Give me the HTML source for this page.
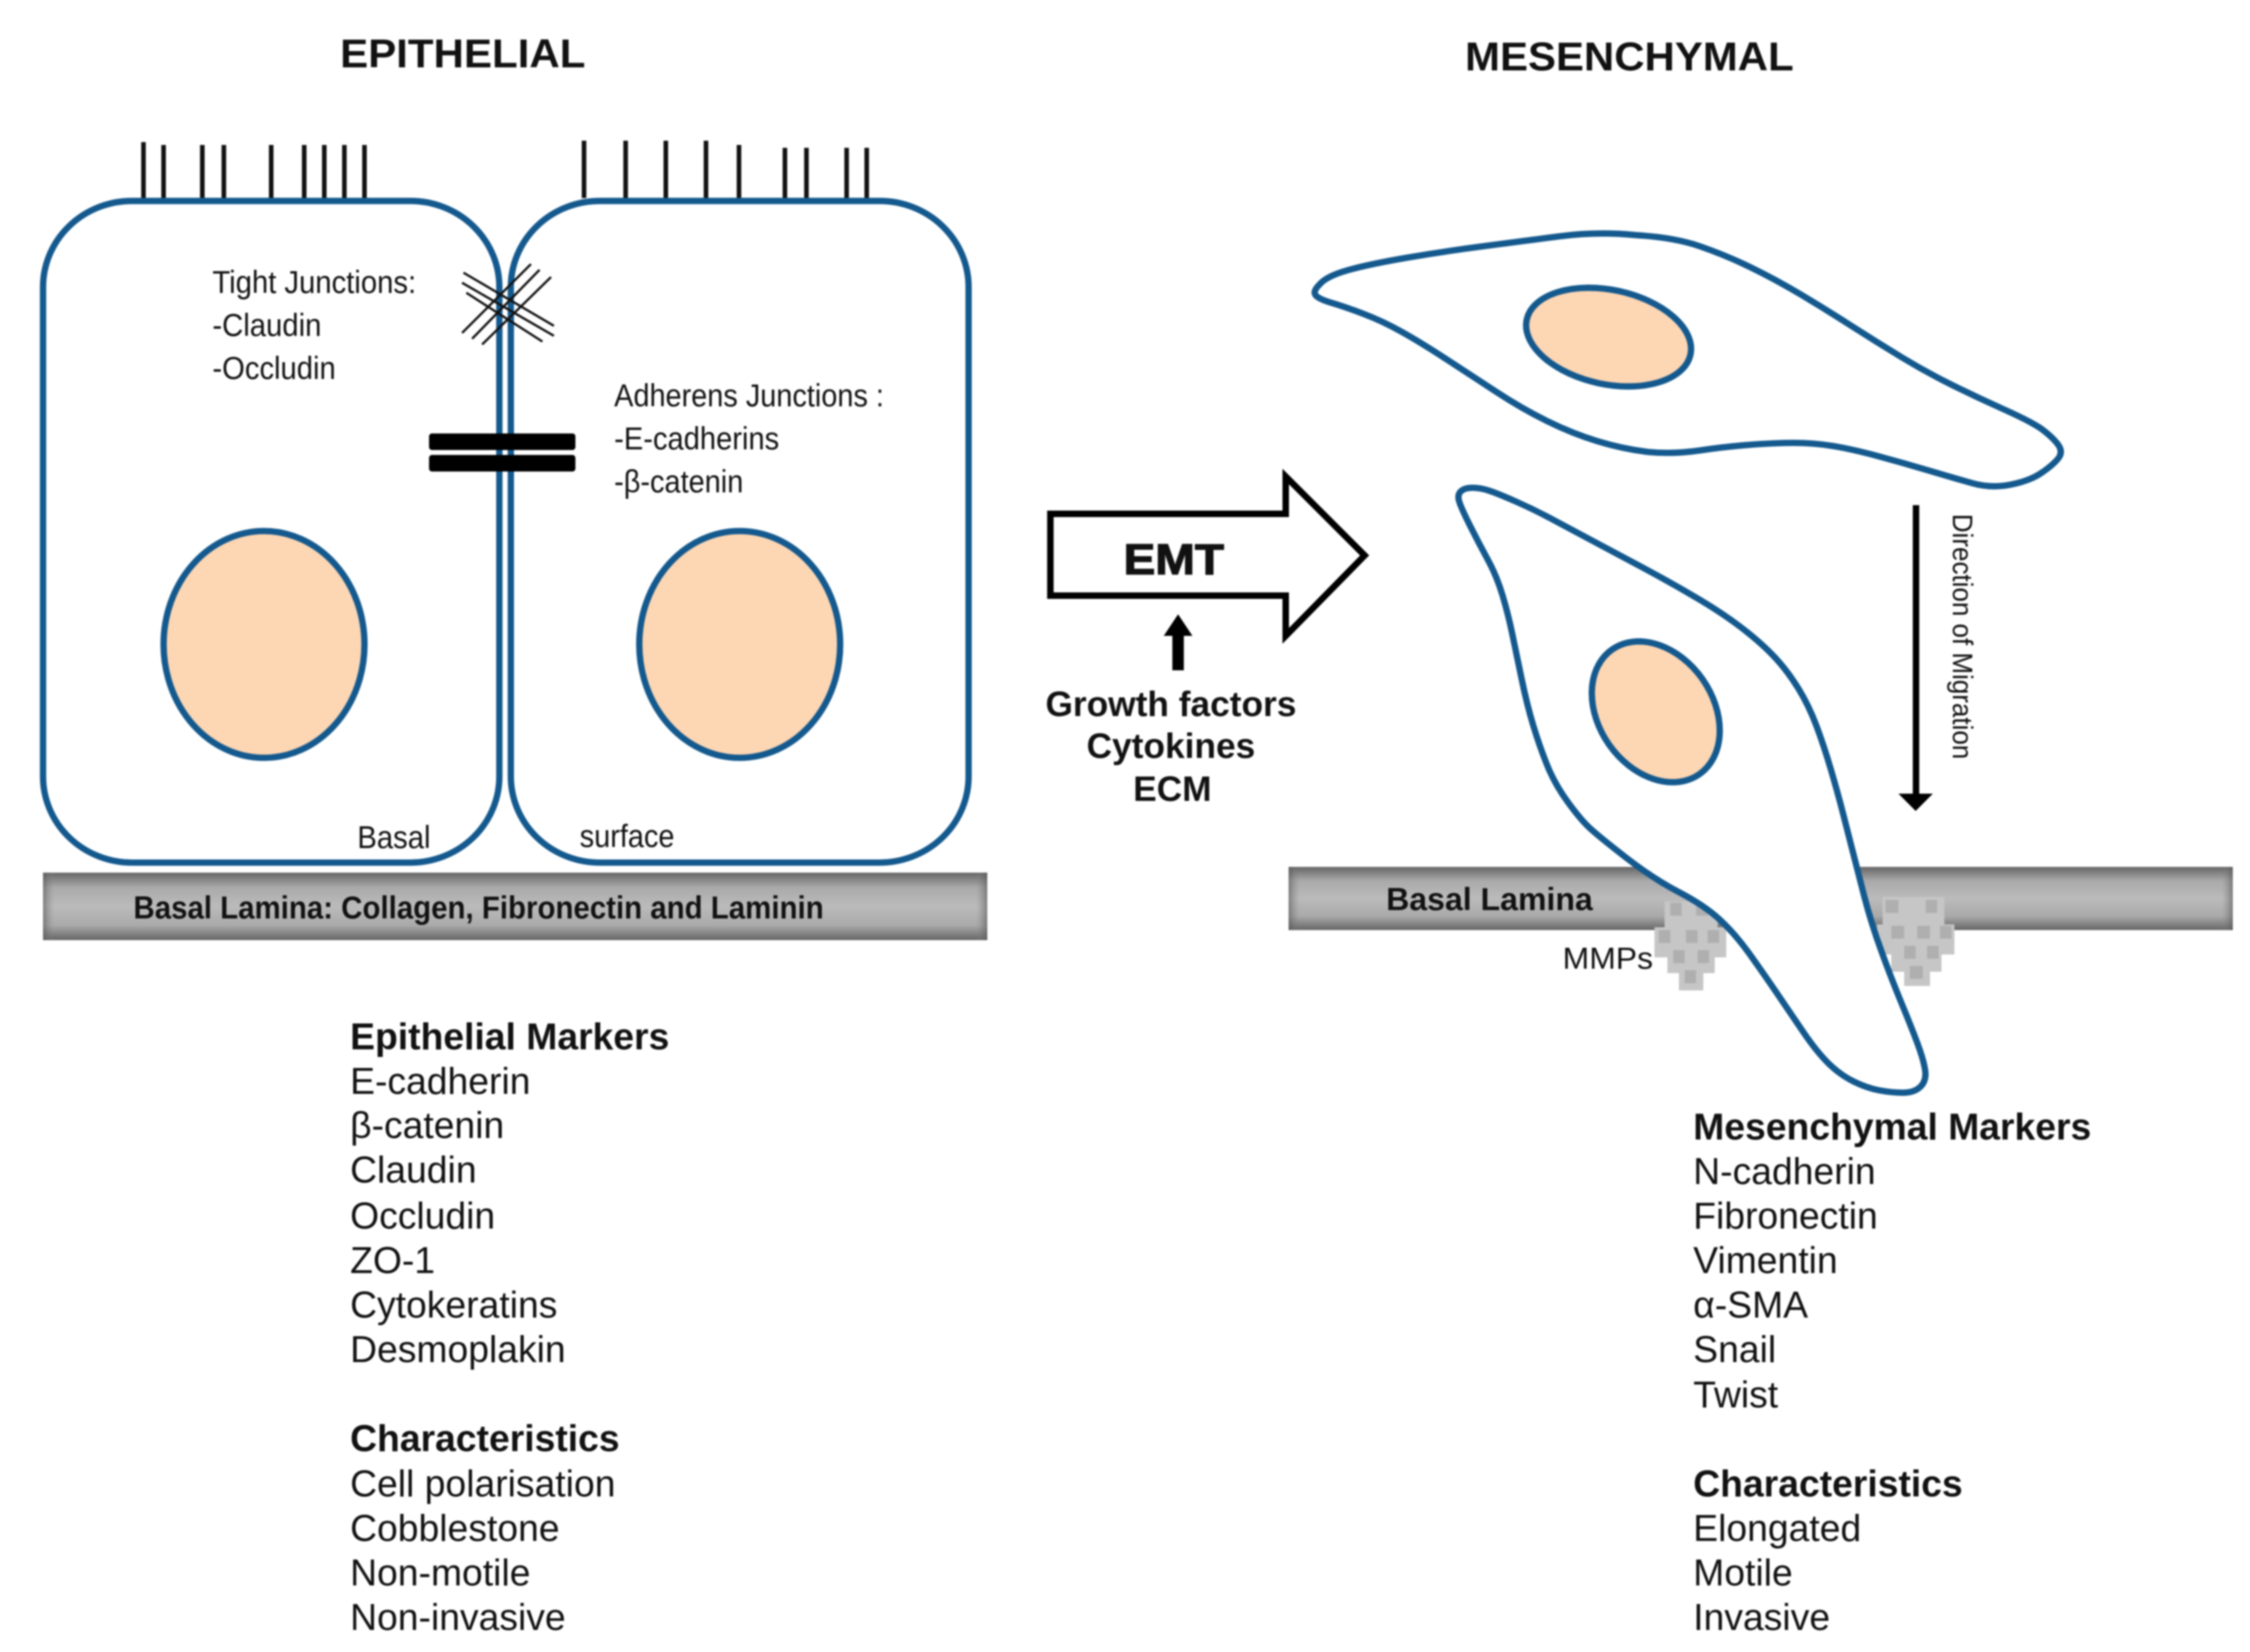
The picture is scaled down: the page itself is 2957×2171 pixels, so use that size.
<!DOCTYPE html>
<html><head><meta charset="utf-8"><style>
html,body{margin:0;padding:0;background:#fff}
svg{display:block;width:2957px;height:2171px;filter:blur(1px)}
text{font-family:"Liberation Sans",sans-serif;fill:#111}
.b{font-weight:bold}
.m{font-size:26px}
.n{font-size:22px}
</style></head><body>
<svg xmlns="http://www.w3.org/2000/svg" viewBox="0 0 1568 1151" preserveAspectRatio="none">
<defs>
<linearGradient id="v" x1="0" y1="0" x2="0" y2="1"><stop offset="0" stop-color="#666"/><stop offset=".22" stop-color="#aaa"/><stop offset=".5" stop-color="#bbb"/><stop offset=".78" stop-color="#aaa"/><stop offset="1" stop-color="#666"/></linearGradient>
<linearGradient id="h" x1="0" y1="0" x2="1" y2="0"><stop offset="0" stop-color="#555" stop-opacity=".6"/><stop offset=".012" stop-color="#888" stop-opacity="0"/><stop offset=".988" stop-color="#888" stop-opacity="0"/><stop offset="1" stop-color="#555" stop-opacity=".6"/></linearGradient>
</defs>
<rect width="1568" height="1151" fill="#fff"/>

<text class="b" x="237" y="47" font-size="28" textLength="171" lengthAdjust="spacingAndGlyphs">EPITHELIAL</text>
<text class="b" x="1021" y="49" font-size="28" textLength="229" lengthAdjust="spacingAndGlyphs">MESENCHYMAL</text>

<g stroke="#111" stroke-width="3.2">
<path d="M100 99V139M114 101V139M141 101V139M156 101V139M189 101V139M212 101V139M226 101V139M240 101V139M254 101V139"/>
<path d="M407 98V138M436 98V138M464 98V138M492 98V138M515 101V138M547 103V139M562 103V139M590 103V139M604 103V139"/>
</g>

<g fill="none" stroke="#14598e" stroke-width="4.4">
<rect x="30" y="140" width="318" height="461" rx="62" ry="60" fill="#fff"/>
<rect x="356" y="140" width="319" height="461" rx="62" ry="60" fill="#fff"/>
</g>
<g fill="#fdd6b3" stroke="#14598e" stroke-width="4.4">
<ellipse cx="184" cy="449" rx="70" ry="79"/>
<ellipse cx="515.5" cy="449" rx="70" ry="79"/>
</g>

<g stroke="#111" stroke-width="1.6">
<path d="M323 190L386 227M322 197L386 234M325 204L378 238"/>
<path d="M322 232L370 184M329 236L376 188M336 240L384 193"/>
</g>
<rect x="299" y="302" width="102" height="11.5" rx="2" fill="#000"/>
<rect x="299" y="317" width="102" height="11.5" rx="2" fill="#000"/>

<g class="n">
<text class="n" x="148" y="204" textLength="142" lengthAdjust="spacingAndGlyphs">Tight Junctions:</text>
<text class="n" x="148" y="234" textLength="76" lengthAdjust="spacingAndGlyphs">-Claudin</text>
<text class="n" x="148" y="264" textLength="86" lengthAdjust="spacingAndGlyphs">-Occludin</text>
<text class="n" x="428" y="283" textLength="188" lengthAdjust="spacingAndGlyphs">Adherens Junctions :</text>
<text class="n" x="428" y="313" textLength="115" lengthAdjust="spacingAndGlyphs">-E-cadherins</text>
<text class="n" x="428" y="343" textLength="90" lengthAdjust="spacingAndGlyphs">-β-catenin</text>
<text class="n" x="249" y="591" textLength="51" lengthAdjust="spacingAndGlyphs">Basal</text>
<text class="n" x="404" y="590" textLength="66" lengthAdjust="spacingAndGlyphs">surface</text>
</g>

<rect x="30" y="608" width="658" height="47" fill="url(#v)"/><rect x="30" y="608" width="658" height="47" fill="url(#h)"/>
<text class="b" x="93" y="640" font-size="22" textLength="481" lengthAdjust="spacingAndGlyphs">Basal Lamina: Collagen, Fibronectin and Laminin</text>

<rect x="898" y="604" width="658" height="44" fill="url(#v)"/><rect x="898" y="604" width="658" height="44" fill="url(#h)"/>
<text class="b" x="966" y="634" font-size="22" textLength="144" lengthAdjust="spacingAndGlyphs">Basal Lamina</text>

<!-- MMP clusters -->
<g>
<path d="M1160 628H1197V646H1203V667H1195V678H1187V690H1170V678H1162V667H1153V646H1160Z" fill="#c6c6c6"/>
<g fill="#afafaf">
<rect x="1164" y="629" width="8" height="9"/><rect x="1182" y="629" width="8" height="9"/>
<rect x="1156" y="648" width="8" height="9"/><rect x="1175" y="648" width="8" height="9"/><rect x="1190" y="648" width="8" height="9"/>
<rect x="1166" y="662" width="8" height="9"/><rect x="1183" y="662" width="8" height="9"/>
<rect x="1174" y="676" width="8" height="9"/>
</g>
</g>
<g>
<path d="M1312 625H1355V644H1362V665H1353V677H1345V687H1327V677H1318V665H1308V644H1312Z" fill="#c6c6c6"/>
<g fill="#afafaf">
<rect x="1314" y="627" width="9" height="9"/><rect x="1342" y="627" width="8" height="9"/>
<rect x="1318" y="645" width="9" height="9"/><rect x="1336" y="645" width="9" height="9"/><rect x="1352" y="645" width="8" height="9"/>
<rect x="1327" y="659" width="8" height="9"/><rect x="1343" y="659" width="8" height="9"/>
<rect x="1331" y="673" width="9" height="9"/>
</g>
</g>

<!-- mesenchymal cells (original pixel coordinates) -->
<g transform="scale(.53028 .53016)">
<g stroke="#14598e" stroke-width="8.3" fill="#fff" stroke-linejoin="round">
<path d="M1734 374Q1743 363 1771.5 355Q1800 347 1850 338.5Q1900 330 1950 323.5Q2000 317 2050 310.5Q2100 304 2150 309Q2200 312 2233.5 323.5Q2267 335 2300 351Q2333 367 2366.5 387Q2400 407 2433.5 428.5Q2467 450 2500 470Q2533 490 2566.5 506.5Q2600 523 2633.5 538Q2667 553 2682 563Q2697 574 2704.5 584Q2712 594 2704.5 603Q2697 612 2682 622Q2667 632 2642 637Q2617 642 2592 635Q2567 628 2533.5 618Q2500 608 2466.5 599Q2433 590 2408 586Q2383 582 2358 582Q2333 582 2300 584.5Q2267 587 2233.5 592Q2200 597 2166.5 594Q2133 590 2100 580Q2067 570 2033.5 553.5Q2000 537 1966.5 515Q1933 493 1900 471.5Q1867 450 1842 436Q1817 422 1792 412.5Q1767 403 1750 398Q1733 393 1729 388Q1725 383 1734 374Z"/>
<path d="M1920 645.5Q1925 641 1935 641Q1945 641 1956 644.5Q1967 648 1992 659Q2017 670 2042 683.5Q2067 697 2100 714.5Q2133 732 2166.5 750Q2200 768 2233.5 788Q2267 808 2292 827.5Q2317 847 2333.5 865Q2350 883 2363.5 905Q2377 927 2387 953.5Q2397 980 2406.5 1012.5Q2416 1045 2423 1072.5Q2430 1100 2435.5 1121.5Q2441 1143 2450 1178Q2459 1213 2472.5 1250Q2486 1287 2499 1318.5Q2512 1350 2520 1371.5Q2528 1393 2530 1406.5Q2532 1420 2524 1428Q2516 1436 2501 1436Q2486 1436 2470 1433Q2454 1430 2436.5 1421.5Q2419 1413 2403.5 1398Q2388 1383 2370 1356.5Q2352 1330 2334 1303.5Q2316 1277 2298 1252Q2280 1227 2260 1208.5Q2240 1190 2206.5 1172.5Q2173 1155 2137.5 1127.5Q2102 1100 2089.5 1088.5Q2077 1077 2060 1053.5Q2043 1030 2033 1005Q2023 980 2015 953.5Q2007 927 2000 893.5Q1993 860 1987.5 833.5Q1982 807 1974.5 782Q1967 757 1955 735Q1943 713 1931.5 690Q1920 667 1917.5 658.5Q1915 650 1920 645.5Z"/>
</g>
<g fill="#fdd6b3" stroke="#14598e" stroke-width="8.3">
<ellipse cx="2114" cy="443" rx="110" ry="62" transform="rotate(12 2114 443)"/>
<ellipse cx="2176" cy="935.5" rx="75" ry="100" transform="rotate(-35 2176 935.5)"/>
</g>
</g>

<text x="1089" y="675" font-size="21" textLength="63" lengthAdjust="spacingAndGlyphs">MMPs</text>

<!-- EMT arrow -->
<polygon points="732,358 896,358 896,332 951,387 896,443 896,415 732,415" fill="#fff" stroke="#000" stroke-width="4.5"/>
<text class="b" x="783" y="400" font-size="30" stroke="#111" stroke-width=".8" textLength="70" lengthAdjust="spacingAndGlyphs">EMT</text>
<path d="M817 467V443H811L821 428L831 443H825V467Z" fill="#000"/>
<text class="b" x="816" y="499" font-size="24.6" text-anchor="middle">Growth factors</text>
<text class="b" x="816" y="528" font-size="24.6" text-anchor="middle">Cytokines</text>
<text class="b" x="817" y="558" font-size="24.6" text-anchor="middle">ECM</text>

<!-- migration arrow -->
<path d="M1333 352H1337.5V553H1347L1335 565L1323 553H1333Z" fill="#000"/>
<text transform="translate(1361 358) rotate(90)" font-size="19.5" textLength="171" lengthAdjust="spacingAndGlyphs">Direction of Migration</text>

<!-- lists -->
<g class="m">
<text class="m b" x="244" y="731">Epithelial Markers</text>
<text class="m" x="244" y="762">E-cadherin</text>
<text class="m" x="244" y="793">β-catenin</text>
<text class="m" x="244" y="824">Claudin</text>
<text class="m" x="244" y="856">Occludin</text>
<text class="m" x="244" y="887">ZO-1</text>
<text class="m" x="244" y="918">Cytokeratins</text>
<text class="m" x="244" y="949">Desmoplakin</text>
<text class="m b" x="244" y="1011">Characteristics</text>
<text class="m" x="244" y="1042.5">Cell polarisation</text>
<text class="m" x="244" y="1073.5">Cobblestone</text>
<text class="m" x="244" y="1104.5">Non-motile</text>
<text class="m" x="244" y="1135.5">Non-invasive</text>

<text class="m b" x="1180" y="794">Mesenchymal Markers</text>
<text class="m" x="1180" y="825">N-cadherin</text>
<text class="m" x="1180" y="856">Fibronectin</text>
<text class="m" x="1180" y="887">Vimentin</text>
<text class="m" x="1180" y="918">α-SMA</text>
<text class="m" x="1180" y="949">Snail</text>
<text class="m" x="1180" y="980.5">Twist</text>
<text class="m b" x="1180" y="1042.5">Characteristics</text>
<text class="m" x="1180" y="1073.5">Elongated</text>
<text class="m" x="1180" y="1104.5">Motile</text>
<text class="m" x="1180" y="1135.5">Invasive</text>
</g>
</svg>
</body></html>
